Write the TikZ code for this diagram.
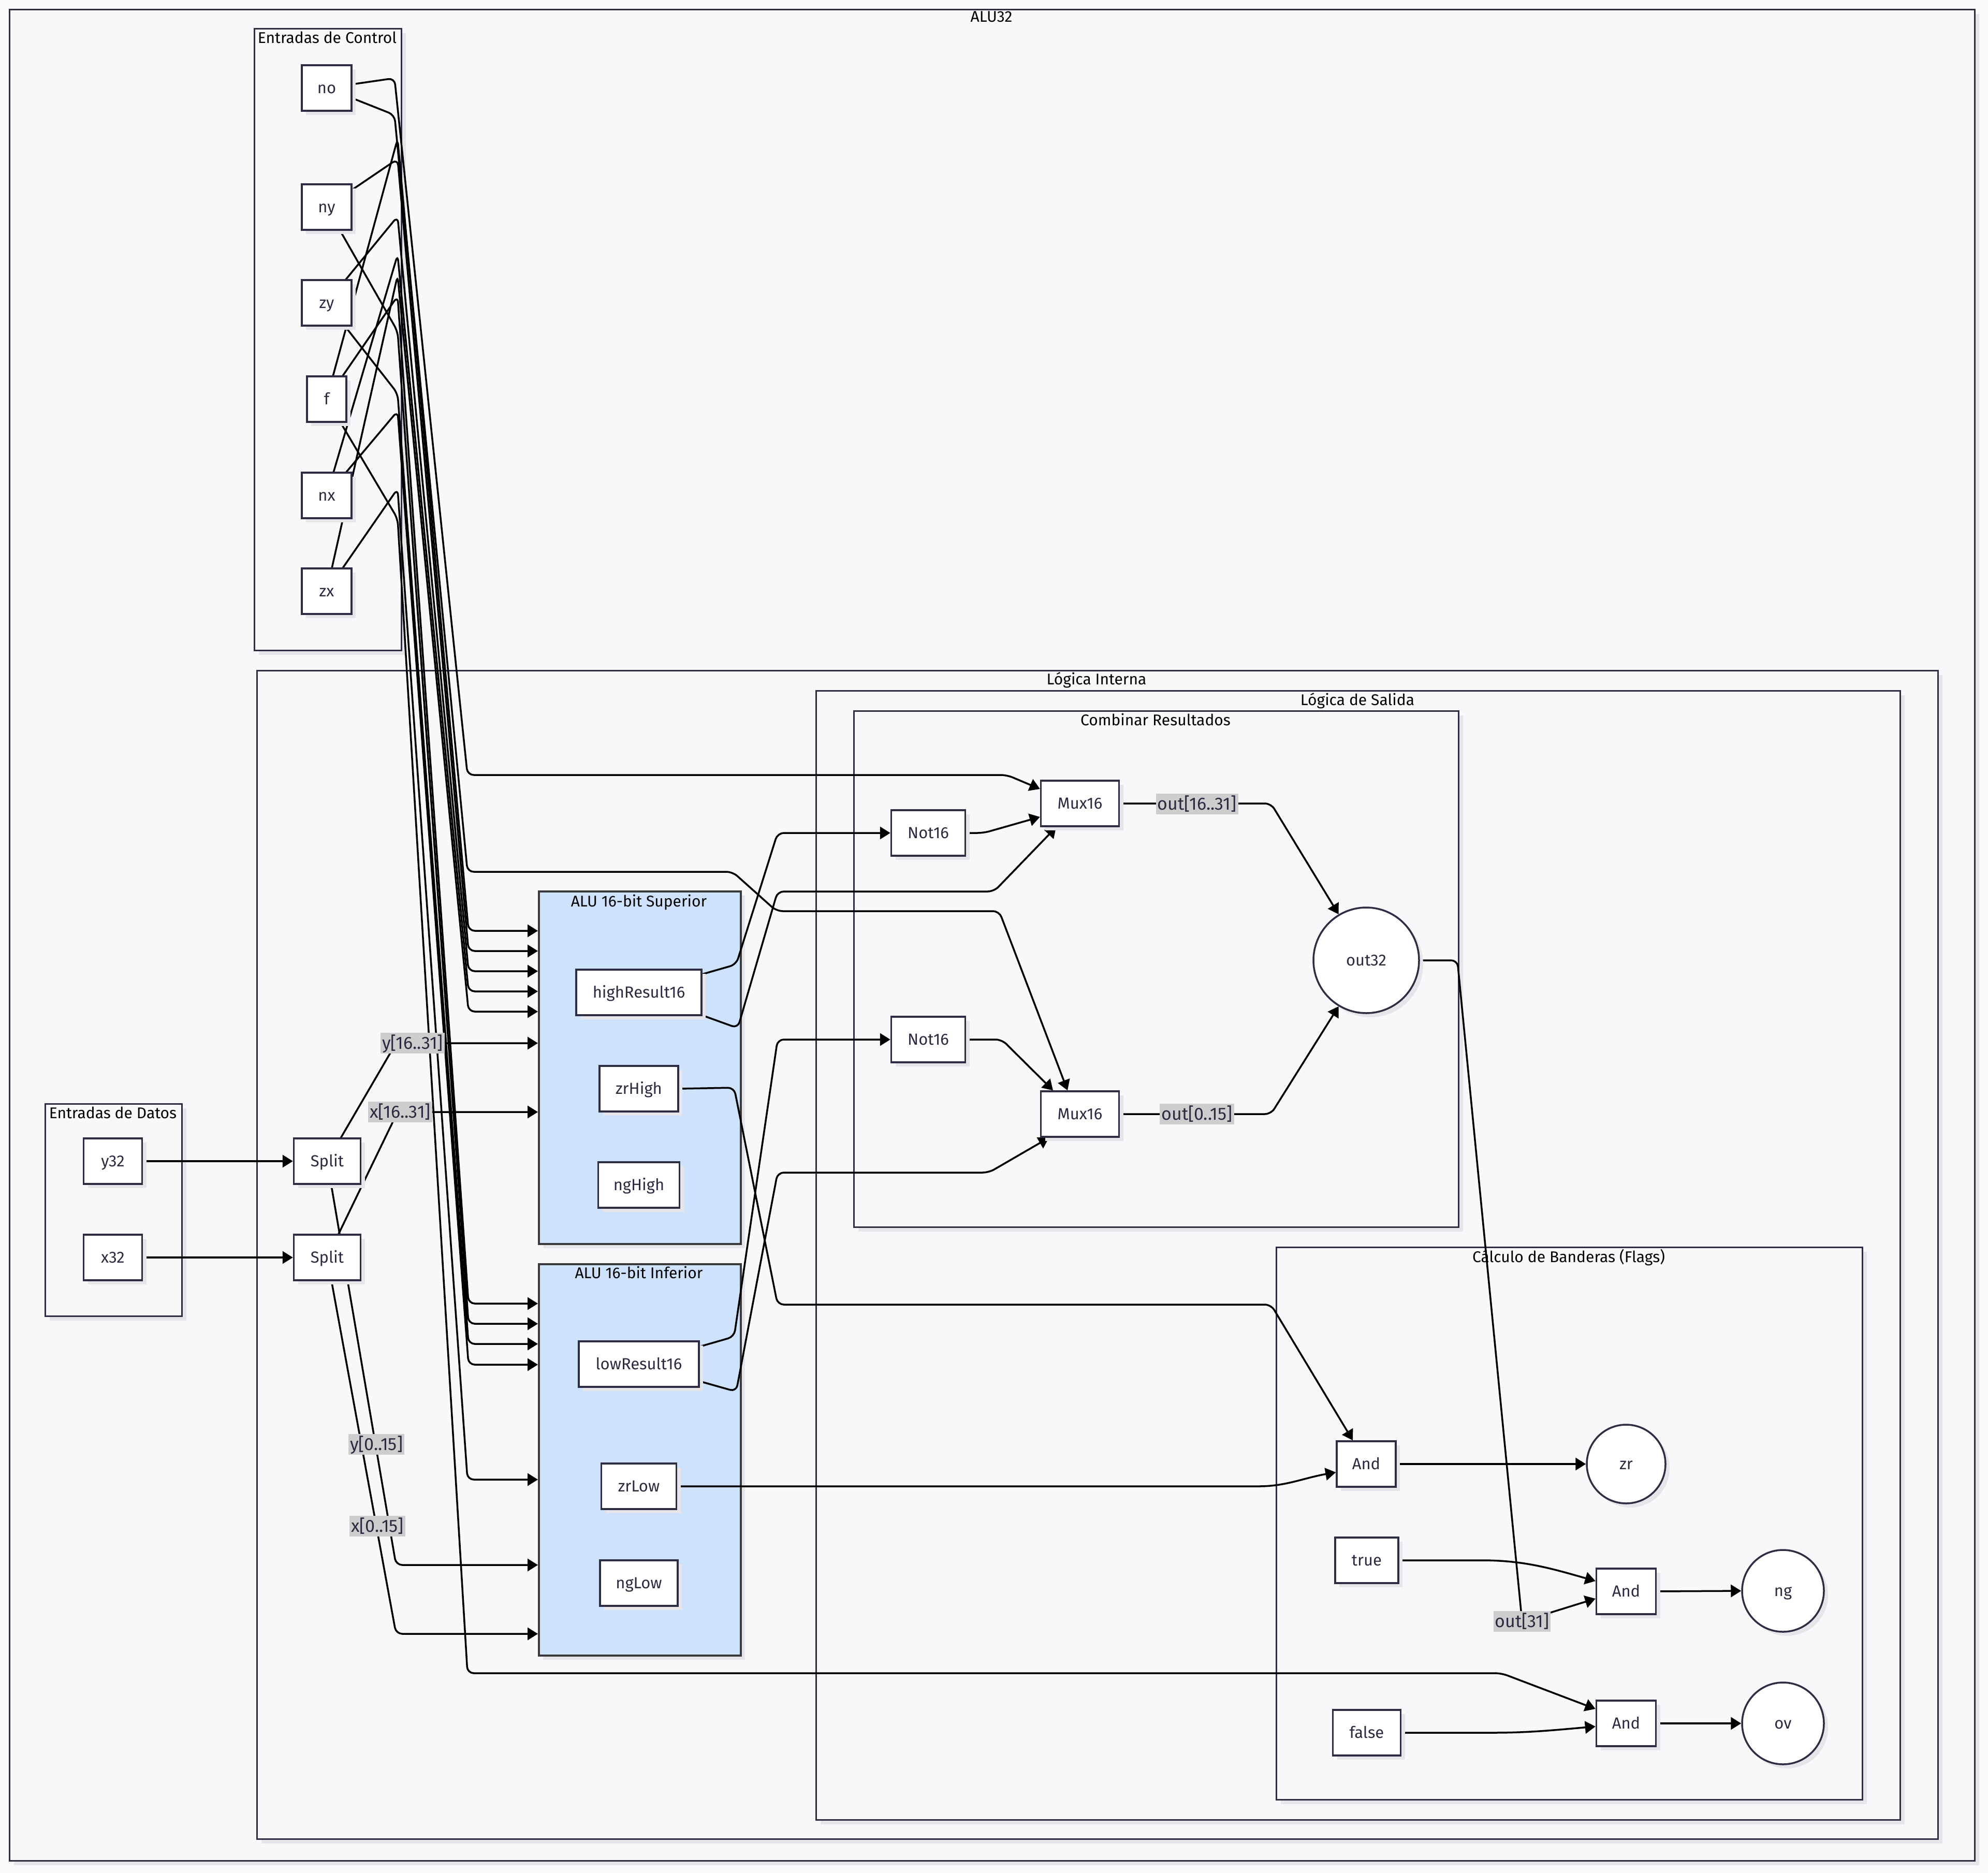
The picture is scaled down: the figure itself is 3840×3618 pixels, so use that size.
\documentclass[tikz,border=0pt]{standalone}
\usepackage{fontspec}
\setmainfont{Fira Sans}
\usetikzlibrary{arrows.meta,shadows}
\definecolor{canvas}{HTML}{F9F9FB}
\definecolor{sgfill}{HTML}{F8F8FA}
\definecolor{nodeb}{HTML}{2D2D44}
\definecolor{txt}{HTML}{2A2A40}
\definecolor{alufill}{HTML}{CFE2FB}
\definecolor{alub}{HTML}{3A3A3A}
\definecolor{shc}{HTML}{E6E6EA}
\definecolor{lblbg}{HTML}{CDCDCD}
\pgfdeclarelayer{bg}\pgfdeclarelayer{edges}
\pgfsetlayers{bg,edges,main}
\begin{document}
\begin{tikzpicture}[x=0.5pt,y=-0.5pt,
 shad/.style={drop shadow={shadow xshift=4pt,shadow yshift=-4pt,fill=shc,opacity=1}},
 sg/.style={draw=nodeb,fill=sgfill,line width=1.6pt,inner sep=0pt,anchor=north west,shad},
 alubox/.style={draw=alub,fill=alufill,line width=2pt,inner sep=0pt,anchor=north west,shad},
 sgtitle/.style={font=\fontsize{15}{18}\selectfont,text=black,inner sep=0pt,anchor=base},
 box/.style={draw=nodeb,fill=white,line width=1.75pt,inner sep=0pt,text=txt,font=\fontsize{15.5}{18}\selectfont,text height=10.5pt,text depth=0pt,minimum height=44pt,shad},
 circ/.style={circle,draw=nodeb,fill=white,line width=1.75pt,inner sep=0pt,text=txt,font=\fontsize{15.5}{18}\selectfont,text height=10.5pt,text depth=0pt,shad},
 wire/.style={draw=black,line width=1.75pt,rounded corners=6pt},
 arr/.style={wire,-{Triangle[length=10pt,width=12pt]}},
 elabel/.style={fill=lblbg,text=txt,font=\fontsize{17}{20}\selectfont,text height=11pt,text depth=0pt,inner xsep=1.5pt,inner ysep=4.5pt},
]
\useasboundingbox (0,0) rectangle (3840,3618);
\begin{pgfonlayer}{bg}
\fill[canvas] (0,0) rectangle (3840,3618);
\node[sg,minimum width=1898pt,minimum height=1788pt] (alu32) at (17,17) {};
\node[sgtitle] (t1) at (1915,43) {ALU32};
\node[sg,minimum width=142pt,minimum height=600.5pt] (ctrl) at (490,54) {};
\node[sgtitle] (t2) at (632,84) {Entradas de Control};
\node[sg,minimum width=132pt,minimum height=205pt] (datos) at (86,2131) {};
\node[sgtitle] (t3) at (218,2160) {Entradas de Datos};
\node[sg,minimum width=1623.5pt,minimum height=1128.5pt] (interna) at (495,1294) {};
\node[sgtitle] (t4) at (2118,1322) {Lógica Interna};
\node[sg,minimum width=1047pt,minimum height=1090.5pt] (salida) at (1575,1333) {};
\node[sgtitle] (t5) at (2622,1362) {Lógica de Salida};
\node[sg,minimum width=584pt,minimum height=498.5pt] (comb) at (1648,1372) {};
\node[sgtitle] (t6) at (2232,1401) {Combinar Resultados};
\node[alubox,minimum width=195pt,minimum height=340.5pt] (aluS) at (1039,1720) {};
\node[sgtitle] (t7) at (1234,1751) {ALU 16-bit Superior};
\node[alubox,minimum width=195pt,minimum height=378pt] (aluI) at (1039,2440) {};
\node[sgtitle] (t8) at (1234,2469) {ALU 16-bit Inferior};
\node[sg,minimum width=566pt,minimum height=533.5pt] (flags) at (2464,2408) {};
\node[sgtitle] (t9) at (3030,2438) {Cálculo de Banderas (Flags)};
\end{pgfonlayer}
% control inputs
\node[box,minimum width=48pt] (no) at (631,170) {no};
\node[box,minimum width=48pt] (ny) at (631,400) {ny};
\node[box,minimum width=48pt] (zy) at (631,585) {zy};
\node[box,minimum width=38pt] (f) at (631,771) {f};
\node[box,minimum width=48pt] (nx) at (631,957) {nx};
\node[box,minimum width=48pt] (zx) at (631,1142) {zx};
% data inputs
\node[box,minimum width=56.5pt] (y32) at (218,2243) {y32};
\node[box,minimum width=56.5pt] (x32) at (218,2429) {x32};
\node[box,minimum width=64.5pt] (split1) at (632,2243) {Split};
\node[box,minimum width=64.5pt] (split2) at (632,2429) {Split};
% ALU 16
\node[box,minimum width=121pt] (hr16) at (1234,1917) {highResult16};
\node[box,minimum width=76pt] (zrH) at (1234,2103) {zrHigh};
\node[box,minimum width=78.5pt] (ngH) at (1234,2289) {ngHigh};
\node[box,minimum width=116pt] (lr16) at (1234,2635) {lowResult16};
\node[box,minimum width=72.5pt] (zrL) at (1234,2871) {zrLow};
\node[box,minimum width=75pt] (ngL) at (1234,3058) {ngLow};
% combine
\node[box,minimum width=75.5pt] (mux1) at (2086,1552) {Mux16};
\node[box,minimum width=71.5pt] (not1) at (1793,1609) {Not16};
\node[circ,minimum size=102pt] (out32) at (2639,1855) {out32};
\node[box,minimum width=71.5pt] (not2) at (1793,2008) {Not16};
\node[box,minimum width=75.5pt] (mux2) at (2086,2152) {Mux16};
% flags
\node[box,minimum width=57pt] (and1) at (2639,2828) {And};
\node[circ,minimum size=76pt] (zr) at (3141,2828) {zr};
\node[box,minimum width=61pt] (true) at (2640,3014) {true};
\node[box,minimum width=57.5pt] (and2) at (3141,3074) {And};
\node[circ,minimum size=79pt] (ng) at (3444,3073) {ng};
\node[box,minimum width=65.5pt] (false) at (2640,3347) {false};
\node[box,minimum width=57.5pt] (and3) at (3141,3329) {And};
\node[circ,minimum size=79pt] (ov) at (3444,3329) {ov};

\begin{pgfonlayer}{edges}
% control signals
\draw[arr] (no.center) -- (762,151) -- (903,1497) -- (1945,1497) -- ([yshift=14pt]mux1.west);
\draw[arr] (no.center) -- (762,222) -- (903,1684) -- (1415,1684) -- (1500,1760) -- (1930,1760) -- ([xshift=-12pt]mux2.north);
\draw[arr] (f.center)  -- (768,268) -- (905,1798) -- (aluS.west |- 0,1798);
\draw[arr] (ny.center) -- (768,307) -- (905,1837) -- (aluS.west |- 0,1837);
\draw[arr] (zy.center) -- (768,418) -- (905,1876) -- (aluS.west |- 0,1876);
\draw[arr] (nx.center) -- (768,492) -- (905,1915) -- (aluS.west |- 0,1915);
\draw[arr] (zx.center) -- (768,532) -- (905,1954) -- (aluS.west |- 0,1954);
\draw[arr] (f.center)  -- (768,572) -- (905,2518) -- (aluI.west |- 0,2518);
\draw[arr] (ny.center) -- (768,640) -- (905,2557) -- (aluI.west |- 0,2557);
\draw[arr] (zy.center) -- (768,760) -- (905,2596) -- (aluI.west |- 0,2596);
\draw[arr] (nx.center) -- (768,794) -- (905,2636) -- (aluI.west |- 0,2636);
\draw[arr] (zx.center) -- (768,944) -- (903,2858) -- (aluI.west |- 0,2858);
\draw[arr] (f.center)  -- (768,1002) -- (903,3232) -- (2900,3232) -- ([yshift=14pt]and3.west);
% data
\draw[arr] (y32.east) -- (split1.west);
\draw[arr] (x32.east) -- (split2.west);
\draw[arr] (split1.center) -- (765,2015) -- (aluS.west |- 0,2015);
\draw[arr] (split2.center) -- (768,2148) -- (aluS.west |- 0,2148);
\draw[arr] (split1.center) -- (765,3023) -- (aluI.west |- 0,3023);
\draw[arr] (split2.center) -- (765,3156) -- (aluI.west |- 0,3156);
% results
\draw[arr] (hr16.center) -- (1422,1863) -- (1502,1609) -- (not1.west);
\draw[arr] (hr16.center) -- (1425,1986) -- (1502,1722) -- (1920,1722) -- ([xshift=-23pt]mux1.south);
\draw[arr] (lr16.center) -- (1418,2582) -- (1502,2008) -- (not2.west);
\draw[arr] (lr16.center) -- (1422,2688) -- (1502,2265) -- (1910,2265) -- ([xshift=-30pt]mux2.south);
\draw[arr] (not1.east) -- (1900,1609) -- ([yshift=-13pt]mux1.west);
\draw[arr] (not2.east) -- (1935,2008) -- ([xshift=-26pt]mux2.north);
\draw[arr] (mux1.east) -- (2455,1552) -- (out32.121);
\draw[arr] (mux2.east) -- (2455,2152) -- (out32.239);
\draw[arr] (out32.east) -- (2815,1855) -- (2940,3132) -- ([yshift=-7pt]and2.west);
% flags
\draw[arr] (zrH.east) -- (1418,2101) -- (1502,2520) -- (2455,2520) -- ([xshift=-13pt]and1.north);
\draw[arr] (zrL.east) -- (2420,2871) to[out=0,in=190] ([yshift=-8pt]and1.west);
\draw[arr] (and1.east) -- (zr.west);
\draw[arr] (true.east) -- (2850,3014) to[out=0,in=164] ([yshift=10pt]and2.west);
\draw[arr] (and2.east) -- (ng.west);
\draw[arr] (false.east) -- (2870,3347) to[out=0,in=185] ([yshift=-3pt]and3.west);
\draw[arr] (and3.east) -- (ov.west);
\end{pgfonlayer}
% edge labels
\node[elabel] (ly1) at (797,2015) {y[16..31]};
\node[elabel] (lx1) at (773,2148) {x[16..31]};
\node[elabel] (ly0) at (727,2790) {y[0..15]};
\node[elabel] (lx0) at (729,2948) {x[0..15]};
\node[elabel] (lo1) at (2312,1553) {out[16..31]};
\node[elabel] (lo0) at (2312,2152) {out[0..15]};
\node[elabel] (lo31) at (2940,3132) {out[31]};
\end{tikzpicture}
\end{document}
